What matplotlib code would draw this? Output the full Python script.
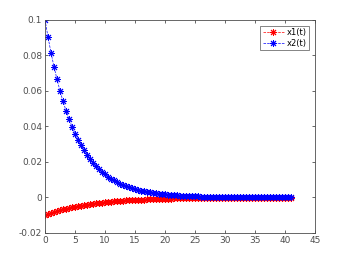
import numpy as np
import matplotlib.pyplot as plt

x1_vals = [
    -0.0100, -0.0094, -0.0088, -0.0082, -0.0077, -0.0072, -0.0068, -0.0064,
    -0.0060, -0.0056, -0.0052, -0.0049, -0.0046, -0.0043, -0.0040, -0.0038,
    -0.0035, -0.0033, -0.0031, -0.0029, -0.0027, -0.0026, -0.0024, -0.0022,
    -0.0021, -0.0020, -0.0019, -0.0017, -0.0016, -0.0015, -0.0014, -0.0013,
    -0.0012, -0.0012, -0.0011, -0.0010, -0.0010, -0.0009, -0.0008, -0.0008,
    -0.0007, -0.0007, -0.0007, -0.0006, -0.0006, -0.0005, -0.0005, -0.0005,
    -0.0004, -0.0004, -0.0004, -0.0004, -0.0003,
    -0.0003, -0.0003, -0.0003, -0.0003, -0.0002, -0.0002, -0.0002, -0.0002,
    -0.0002, -0.0002, -0.00015, -0.00015, -0.00015, -0.00013, -0.00012,
    -0.00011, -0.0001, -0.0001, -0.00009, -0.00009, -0.00008, -0.00008, -0.00007,
    -0.00007, -0.00006, -0.00006, -0.00006, -0.00005, -0.00005, -0.00005,
]
x2_vals = [
    0.1000, 0.0903, 0.0815, 0.0736, 0.0665, 0.0600, 0.0542, 0.0489,
    0.0442, 0.0399, 0.0360, 0.0325, 0.0294, 0.0265, 0.0240, 0.0216,
    0.0195, 0.0176, 0.0159, 0.0144, 0.0130, 0.0117, 0.0106, 0.0096,
    0.0086, 0.0078, 0.0070, 0.0064, 0.0057, 0.0052, 0.0047, 0.0042,
    0.0038, 0.0034, 0.0031, 0.0028, 0.0025, 0.0023, 0.0021, 0.0019,
    0.0017, 0.0015, 0.0014, 0.0012, 0.0011, 0.0010, 0.0009, 0.0008,
    0.0007, 0.00065, 0.0006, 0.00053, 0.00048, 0.00043, 0.00039, 0.00035,
    0.00032, 0.00029, 0.00026, 0.00023, 0.00021, 0.00019, 0.00017, 0.00015,
    0.00014, 0.00013, 0.00011, 0.0001, 0.00009, 0.00008, 0.00007,
    0.00006, 0.00006, 0.00005, 0.00005, 0.00004, 0.00004, 0.00004, 0.00003,
    0.00003, 0.00003, 0.00003, 0.00002,
]
dt = 0.5
t1 = np.arange(len(x1_vals)) * dt
t2 = np.arange(len(x2_vals)) * dt

xticks = [0, 5, 10, 15, 20, 25, 30, 35, 40, 45]
yticks = [-0.02, 0, 0.02, 0.04, 0.06, 0.08, 0.1]
ytick_labels = ['-0.02', '0', '0.02', '0.04', '0.06', '0.08', '0.1']

# ---- figure ----
fig = plt.figure(figsize=(3.49, 2.62), dpi=100)
ax = fig.add_axes([0.129, 0.111, 0.774, 0.813])

star = (8, 2, 0)  # asterisk, like matlab's '*'
ax.plot(t1, x1_vals, color='#ff0000', linestyle='--', linewidth=0.5,
        marker=star, markersize=5, markeredgewidth=0.7, label='x1(t)')
ax.plot(t2, x2_vals, color='#0000ff', linestyle='--', linewidth=0.5,
        marker=star, markersize=5, markeredgewidth=0.7, label='x2(t)')

ax.set_xlim(0, 45)
ax.set_ylim(-0.02, 0.1)
ax.set_xticks(xticks)
ax.set_xticklabels([str(v) for v in xticks])
ax.set_yticks(yticks)
ax.set_yticklabels(ytick_labels)

# --- matlab-ish axes ---
gray = '#4d4d4d'
for s in ax.spines.values():
    s.set_color(gray)
    s.set_linewidth(0.6)
ax.tick_params(direction='in', length=2.5, width=0.6, colors=gray,
               labelsize=6.5, top=True, right=True, pad=2)

leg = ax.legend(loc='upper right', fontsize=6, frameon=True, fancybox=False,
                edgecolor=gray, handlelength=2.6, borderpad=0.3,
                labelspacing=0.2, handletextpad=0.3, borderaxespad=0.7)
leg.get_frame().set_linewidth(0.6)

fig.savefig('out.png', dpi=100)
